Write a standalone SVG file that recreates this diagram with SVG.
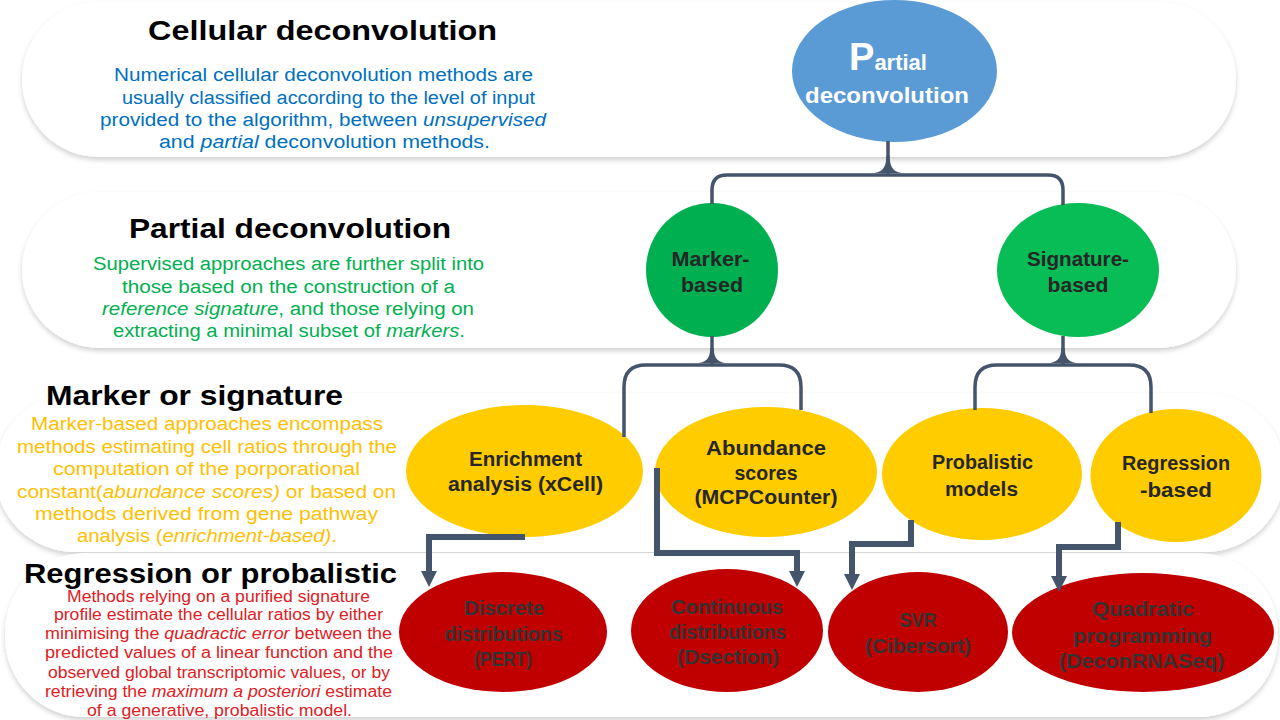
<svg xmlns="http://www.w3.org/2000/svg" width="1280" height="720" viewBox="0 0 1280 720">
<defs>
<filter id="sh" x="-5%" y="-20%" width="110%" height="140%">
<feDropShadow dx="0" dy="3" stdDeviation="2.5" flood-color="#000" flood-opacity="0.18"/>
</filter>
<marker id="ah" viewBox="0 0 16 16" markerWidth="16" markerHeight="16" markerUnits="userSpaceOnUse" refX="2" refY="8" orient="auto">
<path d="M0,0 L16,8 L0,16 Z" fill="#44546A"/>
</marker>
<style>
.panel{fill:#fff;filter:url(#sh)}
.title{font-family:"Liberation Sans",Arial,sans-serif;font-weight:bold;font-size:28px;fill:#000;text-anchor:middle}
.body{font-family:"Liberation Sans",Arial,sans-serif;font-size:18px;text-anchor:middle}
.small{font-size:16px}
.blue{fill:#0070C0}.green{fill:#00B050}.yellow{fill:#FFC000}.red{fill:#E0201E}
.nt{font-family:"Liberation Sans",Arial,sans-serif;font-weight:bold;font-size:20px;text-anchor:middle;fill:#262626}
.nr{fill:#333333}
.tree{fill:none;stroke:#44546A;stroke-width:3.5}
.fil{fill:#44546A}
.arr{fill:none;stroke:#44546A;stroke-width:6;marker-end:url(#ah)}
</style>
</defs>
<rect width="1280" height="720" fill="#fff"/>
<g id="panels">
<rect class="panel" x="22" y="2" width="1214" height="155" rx="77"/>
<rect class="panel" x="22" y="192" width="1214" height="156" rx="78"/>
<rect class="panel" x="-5" y="393" width="1290" height="159" rx="80"/>
<rect class="panel" x="5" y="553" width="1273" height="164" rx="80"/>
</g>
<g id="texts">
<text class="title" x="322.5" y="40" textLength="349" lengthAdjust="spacingAndGlyphs">Cellular deconvolution</text>
<text class="body blue" x="323.5" y="81" textLength="419" lengthAdjust="spacingAndGlyphs">Numerical cellular deconvolution methods are</text>
<text class="body blue" x="328.5" y="104" textLength="413" lengthAdjust="spacingAndGlyphs">usually classified  according to the level of input</text>
<text class="body blue" x="323" y="126" textLength="446" lengthAdjust="spacingAndGlyphs">provided to the algorithm, between <tspan font-style="italic">unsupervised</tspan></text>
<text class="body blue" x="324.5" y="148" textLength="331" lengthAdjust="spacingAndGlyphs">and <tspan font-style="italic">partial</tspan> deconvolution methods.</text>

<text class="title" x="290" y="238" textLength="322" lengthAdjust="spacingAndGlyphs">Partial deconvolution</text>
<text class="body green" x="288.5" y="270" textLength="391" lengthAdjust="spacingAndGlyphs">Supervised approaches are further split into</text>
<text class="body green" x="288.5" y="293" textLength="333" lengthAdjust="spacingAndGlyphs">those based on the construction of a</text>
<text class="body green" x="288" y="315" textLength="372" lengthAdjust="spacingAndGlyphs"><tspan font-style="italic">reference signature</tspan>, and those relying on</text>
<text class="body green" x="289" y="337" textLength="352" lengthAdjust="spacingAndGlyphs">extracting a minimal  subset of <tspan font-style="italic">markers</tspan>.</text>

<text class="title" x="194.5" y="405" textLength="297" lengthAdjust="spacingAndGlyphs">Marker or signature</text>
<text class="body yellow" x="207" y="430" textLength="352" lengthAdjust="spacingAndGlyphs">Marker-based approaches encompass</text>
<text class="body yellow" x="207" y="453" textLength="380" lengthAdjust="spacingAndGlyphs">methods estimating cell ratios through the</text>
<text class="body yellow" x="206.5" y="475" textLength="307" lengthAdjust="spacingAndGlyphs">computation of the porporational</text>
<text class="body yellow" x="206.5" y="498" textLength="379" lengthAdjust="spacingAndGlyphs">constant(<tspan font-style="italic">abundance scores)</tspan>  or based on</text>
<text class="body yellow" x="206.5" y="520" textLength="343" lengthAdjust="spacingAndGlyphs">methods derived from gene pathway</text>
<text class="body yellow" x="207" y="542" textLength="260" lengthAdjust="spacingAndGlyphs">analysis (<tspan font-style="italic">enrichment-based)</tspan>.</text>

<text class="title" x="210.5" y="583" textLength="373" lengthAdjust="spacingAndGlyphs">Regression or probalistic</text>
<text class="body small red" x="218.5" y="602" textLength="303" lengthAdjust="spacingAndGlyphs">Methods relying  on a purified signature</text>
<text class="body small red" x="218.5" y="620" textLength="329" lengthAdjust="spacingAndGlyphs">profile estimate the cellular ratios by either</text>
<text class="body small red" x="218.5" y="639" textLength="347" lengthAdjust="spacingAndGlyphs">minimising the <tspan font-style="italic">quadractic error</tspan> between the</text>
<text class="body small red" x="219" y="658" textLength="348" lengthAdjust="spacingAndGlyphs">predicted values of a linear function and the</text>
<text class="body small red" x="219" y="678" textLength="342" lengthAdjust="spacingAndGlyphs">observed global transcriptomic values, or by</text>
<text class="body small red" x="218.5" y="697" textLength="347" lengthAdjust="spacingAndGlyphs">retrieving the <tspan font-style="italic">maximum a posteriori</tspan> estimate</text>
<text class="body small red" x="219.5" y="716" textLength="265" lengthAdjust="spacingAndGlyphs">of a generative, probalistic model.</text>
</g>

<g id="node-partial">
<ellipse cx="894.5" cy="71" rx="102.5" ry="71" fill="#5B9BD5"/>
<text class="nt" x="888" y="70" fill="#fff" style="fill:#fff"><tspan font-size="38">P</tspan><tspan font-size="22">artial</tspan></text>
<text class="nt" x="887" y="103" font-size="22" style="fill:#fff;font-size:22px" textLength="164" lengthAdjust="spacingAndGlyphs">deconvolution</text>
</g>
<g id="node-marker">
<ellipse cx="712" cy="270" rx="66" ry="67" fill="#00B050"/>
<text class="nt" x="710.5" y="266" textLength="78" lengthAdjust="spacingAndGlyphs">Marker-</text>
<text class="nt" x="712" y="292" textLength="62" lengthAdjust="spacingAndGlyphs">based</text>
</g>
<g id="node-signature">
<ellipse cx="1078" cy="270" rx="81" ry="67" fill="#08BC56"/>
<text class="nt" x="1078" y="266" textLength="102" lengthAdjust="spacingAndGlyphs">Signature-</text>
<text class="nt" x="1078" y="292" textLength="61" lengthAdjust="spacingAndGlyphs">based</text>
</g>
<g id="node-enrichment">
<ellipse cx="524.5" cy="471" rx="118.5" ry="66" fill="#FFCC00"/>
<text class="nt" x="525.5" y="466" textLength="113" lengthAdjust="spacingAndGlyphs">Enrichment</text>
<text class="nt" x="525.5" y="491" textLength="155" lengthAdjust="spacingAndGlyphs">analysis (xCell)</text>
</g>
<g id="node-abundance">
<ellipse cx="766" cy="472" rx="111" ry="65" fill="#FFCC00"/>
<text class="nt" x="766" y="455" textLength="120" lengthAdjust="spacingAndGlyphs">Abundance</text>
<text class="nt" x="766" y="480" textLength="63" lengthAdjust="spacingAndGlyphs">scores</text>
<text class="nt" x="766" y="504" textLength="143" lengthAdjust="spacingAndGlyphs">(MCPCounter)</text>
</g>
<g id="node-probalistic">
<ellipse cx="982" cy="474" rx="100" ry="66" fill="#FFCC00"/>
<text class="nt" x="982.5" y="469" textLength="101" lengthAdjust="spacingAndGlyphs">Probalistic</text>
<text class="nt" x="981.5" y="496" textLength="73" lengthAdjust="spacingAndGlyphs">models</text>
</g>
<g id="node-regression">
<ellipse cx="1176" cy="475.5" rx="85.5" ry="66.5" fill="#FFCC00"/>
<text class="nt" x="1176" y="470" textLength="108" lengthAdjust="spacingAndGlyphs">Regression</text>
<text class="nt" x="1176" y="497" textLength="72" lengthAdjust="spacingAndGlyphs">-based</text>
</g>
<g id="node-discrete">
<ellipse cx="503" cy="632" rx="104" ry="60" fill="#C00000"/>
<text class="nt nr" x="504" y="615" textLength="80" lengthAdjust="spacingAndGlyphs">Discrete</text>
<text class="nt nr" x="503.5" y="641" textLength="118" lengthAdjust="spacingAndGlyphs">distributions</text>
<text class="nt nr" x="503" y="666" textLength="58" lengthAdjust="spacingAndGlyphs">(PERT)</text>
</g>
<g id="node-continuous">
<ellipse cx="727" cy="630.5" rx="96" ry="61.5" fill="#C00000"/>
<text class="nt nr" x="727" y="614" textLength="112" lengthAdjust="spacingAndGlyphs">Continuous</text>
<text class="nt nr" x="727.5" y="639" textLength="117" lengthAdjust="spacingAndGlyphs">distributions</text>
<text class="nt nr" x="728" y="664" textLength="102" lengthAdjust="spacingAndGlyphs">(Dsection)</text>
</g>
<g id="node-svr">
<ellipse cx="918" cy="632" rx="90" ry="60" fill="#C00000"/>
<text class="nt nr" x="918" y="627" textLength="37" lengthAdjust="spacingAndGlyphs">SVR</text>
<text class="nt nr" x="918" y="653" textLength="106" lengthAdjust="spacingAndGlyphs">(Cibersort)</text>
</g>
<g id="node-quadratic">
<ellipse cx="1143" cy="632.5" rx="131" ry="59.5" fill="#C00000"/>
<text class="nt nr" x="1143" y="616" textLength="102" lengthAdjust="spacingAndGlyphs">Quadratic</text>
<text class="nt nr" x="1142.5" y="643" textLength="139" lengthAdjust="spacingAndGlyphs">programming</text>
<text class="nt nr" x="1141.5" y="668" textLength="165" lengthAdjust="spacingAndGlyphs">(DeconRNASeq)</text>
</g>

<g id="connectors">
<path class="tree" d="M888 141 V175"/>
<path class="fil" d="M886.3 156 C886.3 169 881 173.2 871 173.2 L905 173.2 C895 173.2 889.7 169 889.7 156 Z"/>
<path class="tree" d="M712 204 V190 Q712 175 727 175 H1048 Q1063 175 1063 190 V205"/>
<path class="tree" d="M712 336 V365"/>
<path class="fil" d="M710.3 348 C710.3 359 705 363.2 696 363.2 L728 363.2 C719 363.2 713.7 359 713.7 348 Z"/>
<path class="tree" d="M624 437 V387 Q624 365 646 365 H779 Q801 365 801 387 V410"/>
<path class="tree" d="M1063 336 V365"/>
<path class="fil" d="M1061.3 348 C1061.3 359 1056 363.2 1047 363.2 L1079 363.2 C1070 363.2 1064.7 359 1064.7 348 Z"/>
<path class="tree" d="M975 410 V387 Q975 365 997 365 H1129 Q1151 365 1151 387 V413"/>
<path class="arr" d="M525 537 H429 V573"/>
<path class="arr" d="M657 468 V553 H797 V573"/>
<path class="arr" d="M911 520 V544 H852 V576"/>
<path class="arr" d="M1118 522 V547 H1059 V578"/>
</g>
</svg>
